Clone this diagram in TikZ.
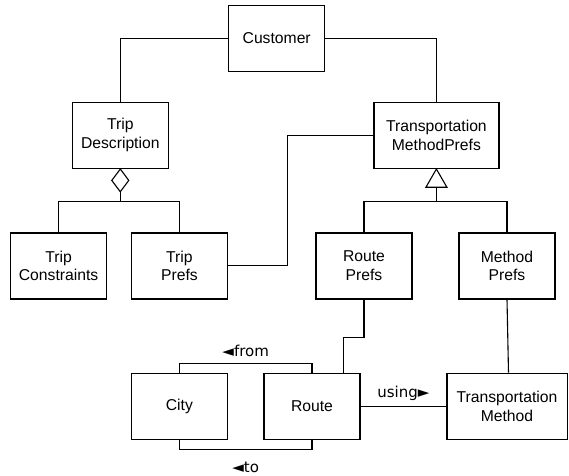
\documentclass[tikz,border=0pt]{standalone}
\usepackage{fontspec}
\setmainfont{Liberation Sans}
\newfontfamily\rolefont{DejaVu Sans}
\usepackage{tikz}
\usetikzlibrary{arrows,shapes.geometric}

\begin{document}
\begin{tikzpicture}[x=1pt,y=-1pt,semithick,node distance=140.5pt]
\useasboundingbox (0,0) rectangle (569,475);
\tikzstyle{class}=[draw,line width=1.5pt,fill=white,align=center,minimum width=96pt,minimum height=66pt,inner sep=2pt,font=\fontsize{15.7}{18.8}\selectfont]
\tikzstyle{link}=[line width=1.1pt]
\tikzstyle{role}=[inner sep=2pt,font=\rolefont\fontsize{15}{18}\selectfont]
\tikzstyle{aggr}=[diamond,draw,line width=1.1pt,fill=white,minimum width=17pt,minimum height=22.7pt,inner sep=0pt,outer sep=0pt,anchor=north]
\tikzstyle{gen}=[regular polygon,regular polygon sides=3,draw,line width=1.1pt,fill=white,minimum size=24.2pt,inner sep=0pt,outer sep=0pt,anchor=north]
\node[class]         (Customer) at (276.7,38.3) {Customer};
\node[class]         (TripDesc) at (120.3,135.3) {Trip\\Description};
\node[class,minimum width=125pt] (TransPrefs) at (436.4,135.3) {Transportation\\MethodPrefs};
\node[class]         (TripCons) at (58.6,265.8) {Trip\\Constraints};
\node[class]         (TripPrefs) [node distance=120.8pt,right of=TripCons] {Trip\\Prefs};
\node[class]         (RoutePrefs) at (364,265.8) {Route\\Prefs};
\node[class]         (MethodPrefs) [node distance=143pt,right of=RoutePrefs] {Method\\Prefs};
\node[class]         (City) [below of=TripPrefs] {City};
\node[class]         (Route) [node distance=132.6pt,right of=City] {Route};
\node[class,minimum width=120.5pt] (TransMethod) [below of=MethodPrefs] {Transportation\\Method};

\node[aggr] (agg) at (TripDesc.south) {};
\node[gen]  (isa) at (TransPrefs.south) {};

\draw[link] (Customer.west) -| (TripDesc.north);
\draw[link] (Customer.east) -| (TransPrefs.north);
\draw[link] (agg.south) -- ++(0,9);
\draw[link] (TripCons.north) -- ++(0,-31) -| (TripPrefs.north);
\draw[link] (isa.south) -- ++(0,15);
\draw[link] (RoutePrefs.north) -- ++(0,-31) -| (MethodPrefs.north);
\draw[link] (TransPrefs.west) -- ++(-86,0) |- (TripPrefs.east);
\draw[link] (RoutePrefs.south) -- ++(0,37.7) -| ([xshift=31.6pt]Route.north);
\draw[link] (MethodPrefs.south) -- ([xshift=1.5pt]TransMethod.north);
\draw[link] (City.north) -- ++(0,-9.3) -| node[role,pos=0.25,above=3.6pt] {◄from} (Route.north);
\draw[link] (City.south) -- ++(0,9.7) -| node[role,pos=0.25,below=10pt] {◄to} (Route.south);
\draw[link] (Route.east) -- node[role,above=3.3pt] {using►} (TransMethod.west);
\end{tikzpicture}
\end{document}
